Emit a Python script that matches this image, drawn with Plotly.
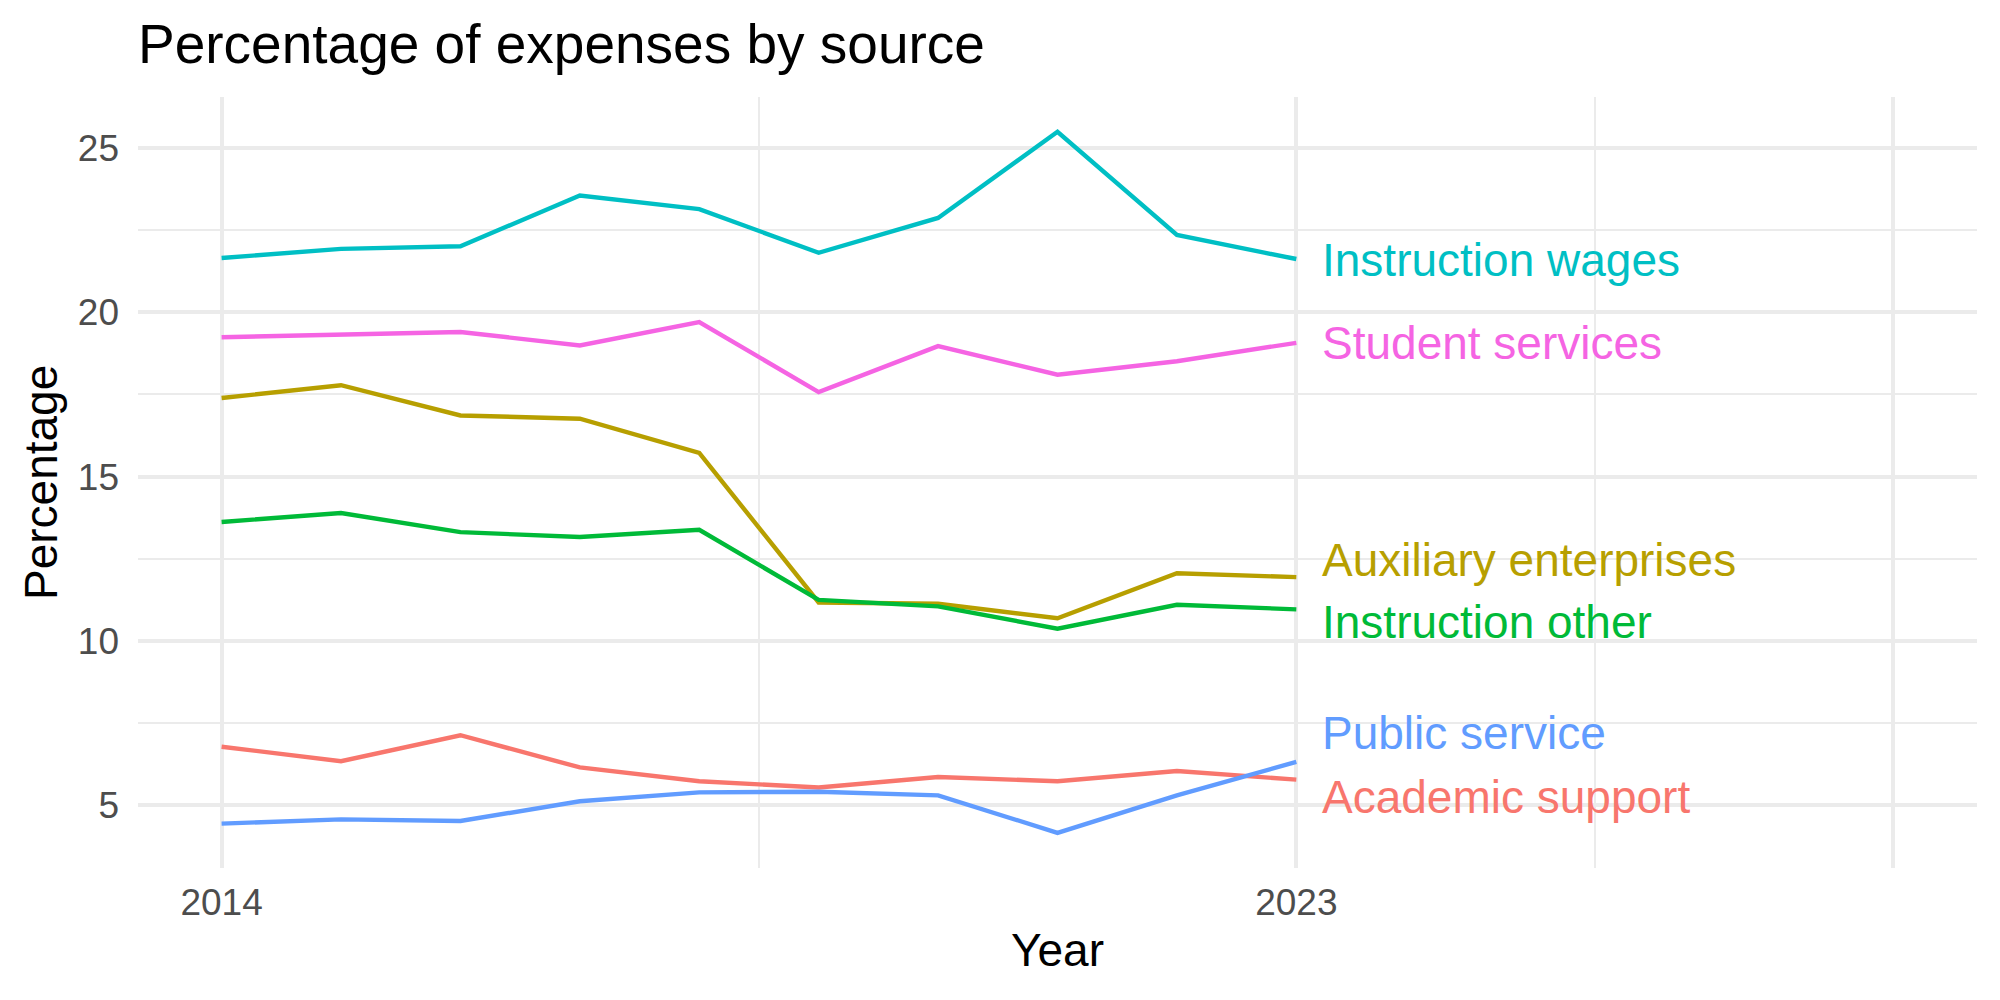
import plotly.graph_objects as go

years = [2014, 2015, 2016, 2017, 2018, 2019, 2020, 2021, 2022, 2023]

series_names = ["Academic support", "Auxiliary enterprises", "Instruction other",
                "Instruction wages", "Public service", "Student services"]
academic_support = [6.78, 6.34, 7.13, 6.15, 5.73, 5.54, 5.86, 5.73, 6.04, 5.78]
auxiliary_enterprises = [17.39, 17.78, 16.86, 16.76, 15.72, 11.17, 11.13, 10.69, 12.06, 11.94]
instruction_other = [13.62, 13.89, 13.31, 13.16, 13.38, 11.25, 11.05, 10.37, 11.10, 10.96]
instruction_wages = [21.65, 21.93, 22.01, 23.55, 23.14, 21.81, 22.87, 25.49, 22.35, 21.62]
public_service = [4.44, 4.57, 4.52, 5.12, 5.39, 5.41, 5.30, 4.16, 5.30, 6.32]
student_services = [19.24, 19.32, 19.40, 18.99, 19.70, 17.57, 18.97, 18.10, 18.51, 19.07]

# label positions (repelled to avoid overlap), in data units
label_y = [5.25, 12.45, 10.57, 21.60, 7.20, 19.08]
label_x = 2023.2

colors = ["#F8766D", "#B79F00", "#00BA38", "#00BFC4", "#619CFF", "#F564E3"]

x_major = [2014, 2023, 2028]
x_major_text = ["2014", "2023", ""]
x_minor = [2018.5, 2025.5]
y_major = [5, 10, 15, 20, 25]
y_minor = [7.5, 12.5, 17.5, 22.5]

values = [academic_support, auxiliary_enterprises, instruction_other,
          instruction_wages, public_service, student_services]

FONT = "Liberation Sans, Arial, Helvetica, sans-serif"

fig = go.Figure()
for name, vals, col in zip(series_names, values, colors):
    fig.add_trace(go.Scatter(x=years, y=vals, mode="lines", name=name,
                             line=dict(color=col, width=4.4), showlegend=False))

annotations = []
for name, ly, col in zip(series_names, label_y, colors):
    annotations.append(dict(x=label_x, y=ly, xref="x", yref="y", text=name,
                            showarrow=False, xanchor="left", yanchor="middle",
                            font=dict(family=FONT, size=46, color=col)))

# axis titles
annotations.append(dict(x=0.5, y=-0.107, xref="paper", yref="paper", text="Year",
                        showarrow=False, xanchor="center", yanchor="middle",
                        font=dict(family=FONT, size=46, color="black")))
annotations.append(dict(x=-0.053, y=0.5, xref="paper", yref="paper", text="Percentage",
                        showarrow=False, xanchor="center", yanchor="middle", textangle=-90,
                        font=dict(family=FONT, size=46, color="black")))

fig.update_layout(
    width=2000, height=1000,
    paper_bgcolor="white", plot_bgcolor="white",
    margin=dict(l=138, r=23, t=97, b=132),
    title=dict(text="Percentage of expenses by source", x=138/2000, xref="container",
               xanchor="left", y=1-44/1000, yref="container", yanchor="middle",
               font=dict(family=FONT, size=55, color="black")),
    annotations=annotations,
    xaxis=dict(range=[2013.3, 2028.7], tickvals=x_major, ticktext=x_major_text,
               showgrid=True, gridcolor="#EBEBEB", gridwidth=4.4, zeroline=False,
               showline=False, ticks="", ticklabelstandoff=9,
               tickfont=dict(family=FONT, size=37, color="#4D4D4D"),
               minor=dict(tickvals=x_minor, showgrid=True, gridcolor="#EBEBEB", gridwidth=2.2, ticks="")),
    yaxis=dict(range=[3.09, 26.55], tickvals=y_major,
               showgrid=True, gridcolor="#EBEBEB", gridwidth=4.4, zeroline=False,
               showline=False, ticks="", ticklabelstandoff=18,
               tickfont=dict(family=FONT, size=37, color="#4D4D4D"),
               minor=dict(tickvals=y_minor, showgrid=True, gridcolor="#EBEBEB", gridwidth=2.2, ticks="")),
)

fig.write_html("out.html")
